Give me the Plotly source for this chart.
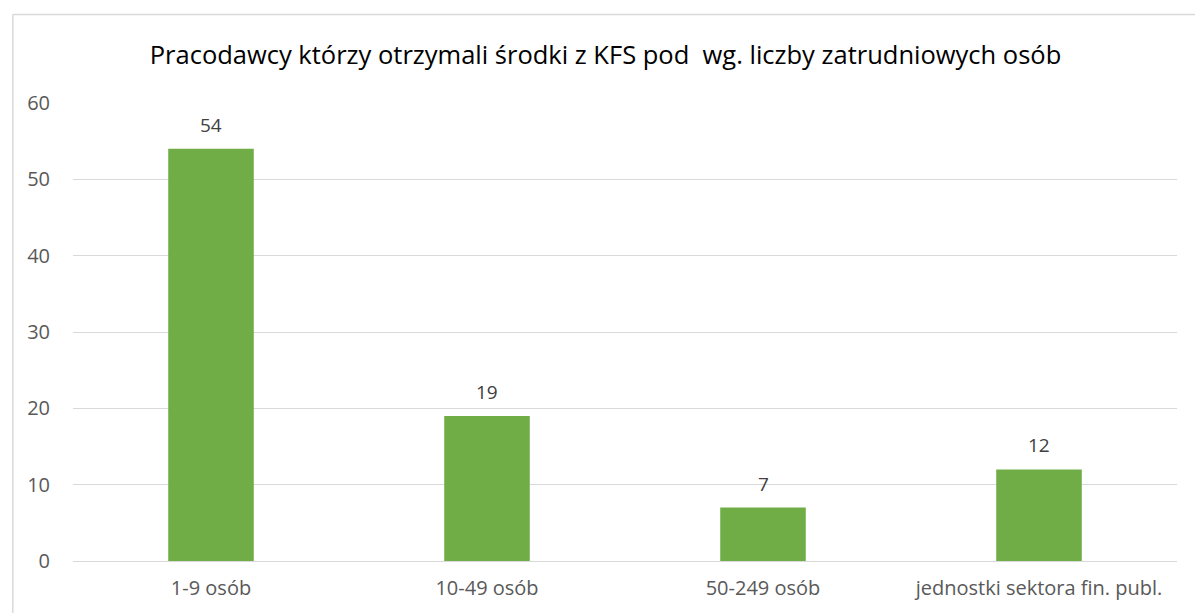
import plotly.graph_objects as go

categories = ["1-9 osób", "10-49 osób", "50-249 osób", "jednostki sektora fin. publ."]
values = [54, 19, 7, 12]
title_text = "Pracodawcy którzy otrzymali środki z KFS pod  wg. liczby zatrudniowych osób"

fig = go.Figure(go.Bar(
    x=categories, y=values,
    marker=dict(color="#70AD47", line=dict(width=0)),
    width=0.31,
    hoverinfo="skip",
))

# data labels placed above the bars
for c, v in zip(categories, values):
    fig.add_annotation(x=c, y=v, text=str(v), showarrow=False, yanchor="bottom",
                       yshift=9, font=dict(size=19, color="#404040"))

fig.update_layout(
    width=1195, height=605,
    paper_bgcolor="white", plot_bgcolor="white",
    font=dict(family="Open Sans, sans-serif", size=19, color="#595959"),
    title=dict(text=title_text, x=0.5, xanchor="center", y=0.922, yanchor="middle",
               font=dict(size=25.5, color="#000000")),
    margin=dict(l=65, r=26, t=95, b=52),
    showlegend=False,
    bargap=0.69,
    xaxis=dict(showgrid=False, showline=True, linecolor="#d9d9d9", linewidth=1,
               ticks="", ticklabelstandoff=9, tickfont=dict(size=20, color="#595959")),
    yaxis=dict(range=[0, 60], dtick=10, showgrid=True, gridcolor="#d9d9d9", gridwidth=1,
               zeroline=False, showline=False, ticks="", ticklabelstandoff=22,
               tickfont=dict(size=20, color="#595959")),
    shapes=[
        dict(type="line", xref="paper", yref="paper", x0=-0.0545, x1=1.1, y0=1.193, y1=1.193,
             line=dict(color="#d9d9d9", width=1.5)),
        dict(type="line", xref="paper", yref="paper", x0=-0.0545, x1=-0.0545, y0=-0.2, y1=1.193,
             line=dict(color="#d9d9d9", width=1.5)),
    ],
)

fig.write_html("out.html")
